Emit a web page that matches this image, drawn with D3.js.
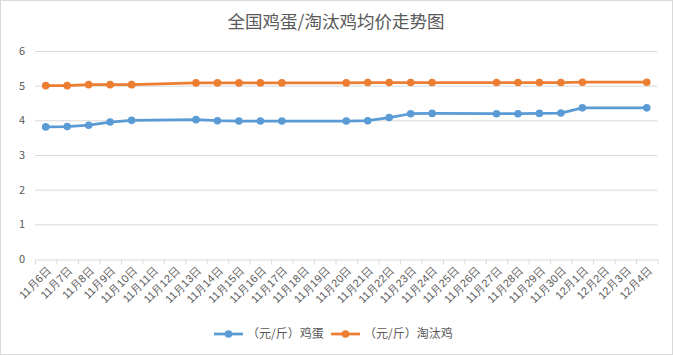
<!DOCTYPE html>
<html><head><meta charset="utf-8">
<script src="https://cdn.jsdelivr.net/npm/d3@7"></script>
<style>
html,body{margin:0;padding:0;background:#fff;}
svg{display:block;font-family:"Microsoft YaHei","Noto Sans CJK SC",sans-serif;}
</style></head>
<body>
<script>
const categories = ["11月6日","11月7日","11月8日","11月9日","11月10日","11月11日","11月12日","11月13日","11月14日","11月15日","11月16日","11月17日","11月18日","11月19日","11月20日","11月21日","11月22日","11月23日","11月24日","11月25日","11月26日","11月27日","11月28日","11月29日","11月30日","12月1日","12月2日","12月3日","12月4日"];
const eggPrice = [3.81,3.82,3.86,3.95,4.00,null,null,4.02,3.99,3.98,3.98,3.98,null,null,3.98,3.99,4.08,4.19,4.20,null,null,4.19,4.19,4.20,4.21,4.36,null,null,4.36];
const henPrice = [5.00,5.00,5.03,5.03,5.03,null,null,5.08,5.08,5.08,5.08,5.08,null,null,5.08,5.09,5.09,5.09,5.09,null,null,5.09,5.09,5.09,5.09,5.10,null,null,5.10];
const yTicks = [0,1,2,3,4,5,6];
const seriesNames = ["（元/斤）鸡蛋","（元/斤）淘汰鸡"];
const colors = ["#5B9BD5","#ED7D31"];
const title = "全国鸡蛋/淘汰鸡均价走势图";

const W=673,H=355;
const svg=d3.select("body").append("svg").attr("width",W).attr("height",H);
svg.append("rect").attr("x",0.5).attr("y",0.5).attr("width",W-1).attr("height",H-1).attr("fill","#fff").attr("stroke","#d9d9d9");

const x=d3.scaleBand().domain(categories).range([35,657.5]).padding(0);
const y=d3.scaleLinear().domain([0,6]).range([259,51]);

svg.append("text").attr("x",336).attr("y",28).attr("text-anchor","middle")
  .attr("font-size",17.5).attr("fill","#595959").text(title);

// gridlines
svg.append("g").selectAll("line").data(yTicks.filter(d=>d>0)).join("line")
  .attr("x1",35).attr("x2",657.5).attr("y1",d=>y(d)+0.5).attr("y2",d=>y(d)+0.5)
  .attr("stroke","#d9d9d9").attr("stroke-width",1);

// y labels
svg.append("g").selectAll("text").data(yTicks).join("text")
  .attr("x",25).attr("y",d=>y(d)+4).attr("text-anchor","end")
  .attr("font-size",11).attr("fill","#595959").text(d=>d);

// x axis
const xAxis=d3.axisBottom(x).tickSize(0).tickFormat("");
const gx=svg.append("g").attr("transform",`translate(0,${y(0)+0.5})`).call(xAxis);
gx.select(".domain").attr("stroke","#d9d9d9");
const bounds=categories.map(c=>x(c)).concat([x(categories[categories.length-1])+x.bandwidth()]);
gx.selectAll("line.tk").data(bounds).join("line").attr("class","tk")
  .attr("x1",d=>d+0.5).attr("x2",d=>d+0.5).attr("y1",0).attr("y2",5).attr("stroke","#d9d9d9");
gx.selectAll("text.lbl").data(categories).join("text").attr("class","lbl")
  .attr("transform",d=>`translate(${x(d)+x.bandwidth()/2+6},${12}) rotate(-45)`)
  .attr("text-anchor","end").attr("font-size",11).attr("fill","#595959").text(d=>d);

// lines
[eggPrice,henPrice].forEach((vals,i)=>{
  const pts=categories.map((c,j)=>({c,v:vals[j]})).filter(p=>p.v!=null);
  const line=d3.line().x(p=>x(p.c)+x.bandwidth()/2).y(p=>y(p.v));
  svg.append("path").datum(pts).attr("d",line).attr("fill","none")
    .attr("stroke",colors[i]).attr("stroke-width",2.75).attr("stroke-linejoin","round").attr("stroke-linecap","round");
  svg.append("g").selectAll("circle").data(pts).join("circle")
    .attr("cx",p=>x(p.c)+x.bandwidth()/2).attr("cy",p=>y(p.v)).attr("r",3.8)
    .attr("fill",colors[i]);
});

// legend
const lg=[{x:214,tx:247},{x:331,tx:364}];
seriesNames.forEach((n,i)=>{
  const g=svg.append("g");
  g.append("line").attr("x1",lg[i].x).attr("x2",lg[i].x+29).attr("y1",334).attr("y2",334)
    .attr("stroke",colors[i]).attr("stroke-width",2.75);
  g.append("circle").attr("cx",lg[i].x+14.5).attr("cy",334).attr("r",3.8).attr("fill",colors[i]);
  g.append("text").attr("x",lg[i].tx).attr("y",338).attr("font-size",12).attr("fill","#595959").text(n);
});
</script>
</body></html>
